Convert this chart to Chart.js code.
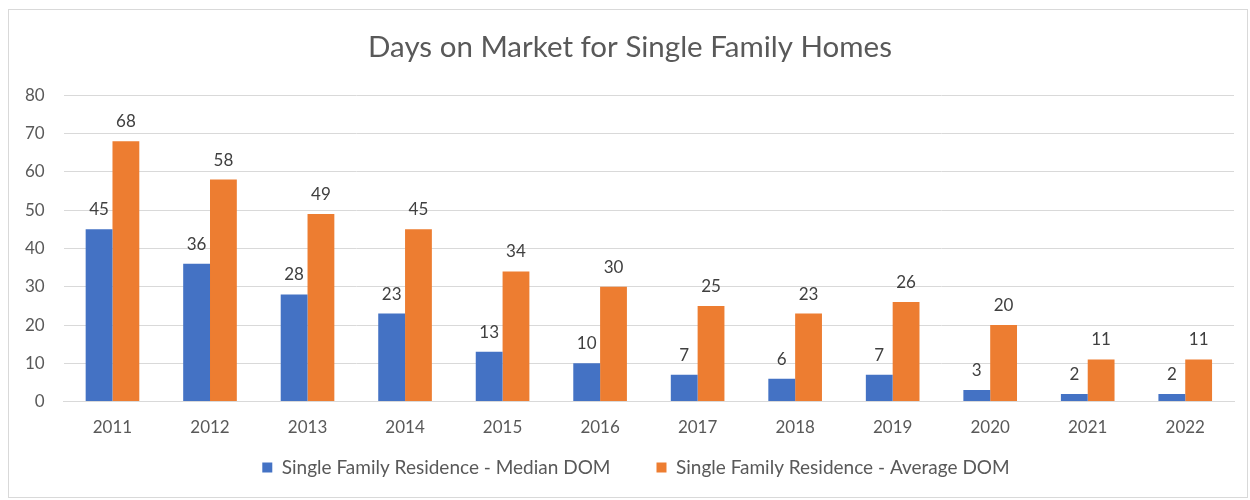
<!DOCTYPE html>
<html>
<head>
<meta charset="utf-8">
<script src="https://cdn.jsdelivr.net/npm/chart.js@4"></script>
<style>
    body { margin: 0; background: #fff; }
    #wrap {
        position: absolute; left: 8px; top: 9px;
        width: 1240px; height: 489px;
        border: 1px solid #d9d9d9; box-sizing: border-box;
    }
</style>
</head>
<body>
<div id="wrap"><canvas id="chart" width="1238" height="487"></canvas></div>
<script>
const years = ['2011', '2012', '2013', '2014', '2015', '2016', '2017', '2018', '2019', '2020', '2021', '2022'];
const medianDom = [45, 36, 28, 23, 13, 10, 7, 6, 7, 3, 2, 2];
const averageDom = [68, 58, 49, 45, 34, 30, 25, 23, 26, 20, 11, 11];
const yTicks = [0, 10, 20, 30, 40, 50, 60, 70, 80];

const FONT = 'Lato, "Liberation Sans", sans-serif';
const GREY = '#595959';
const LEGEND_LIFT = 34;

// draws the value above each bar, like excel data labels
const barLabels = {
    id: 'barLabels',
    afterDatasetsDraw(chart) {
        const ctx = chart.ctx;
        ctx.save();
        ctx.font = '17px ' + FONT;
        ctx.fillStyle = '#404040';
        ctx.textAlign = 'center';
        ctx.textBaseline = 'bottom';
        chart.data.datasets.forEach((ds, i) => {
            chart.getDatasetMeta(i).data.forEach((bar, j) => {
                ctx.fillText(ds.data[j], bar.x, bar.y - 11);
            });
        });
        ctx.restore();
    }
};

// legend keeps its wide item spacing but sits closer to the axis;
// title and legend are nudged right a little like in the original
const nudgeBoxes = {
    id: 'nudgeBoxes',
    afterLayout(chart) {
        chart.legend.top -= LEGEND_LIFT;
        chart.legend.bottom -= LEGEND_LIFT;
        chart.legend.left += 16;
        chart.legend.right += 16;
        chart.titleBlock.left += 10;
        chart.titleBlock.right += 10;
    }
};

new Chart(document.querySelector('#chart'), {
    type: 'bar',
    data: {
        labels: years,
        datasets: [
            {
                label: 'Single Family Residence - Median DOM',
                data: medianDom,
                backgroundColor: '#4472C4'
            },
            {
                label: 'Single Family Residence - Average DOM',
                data: averageDom,
                backgroundColor: '#ED7D31'
            }
        ]
    },
    options: {
        responsive: false,
        animation: false,
        datasets: {
            bar: { categoryPercentage: 0.55, barPercentage: 1 }
        },
        layout: { padding: { left: -3, right: 13, top: 0, bottom: 10 - LEGEND_LIFT } },
        plugins: {
            title: {
                display: true,
                text: 'Days on Market for Single Family Homes',
                color: GREY,
                font: { family: FONT, size: 29.5, weight: 'normal' },
                padding: { top: 20, bottom: 30 }
            },
            legend: {
                position: 'bottom',
                labels: {
                    color: GREY,
                    font: { family: FONT, size: 19 },
                    boxWidth: 10,
                    boxHeight: 10,
                    padding: 46
                }
            },
            tooltip: { enabled: false }
        },
        scales: {
            x: {
                grid: { display: false },
                border: { color: '#d9d9d9' },
                ticks: { color: GREY, font: { family: FONT, size: 17 }, padding: 8, maxRotation: 0 }
            },
            y: {
                min: 0,
                max: 80,
                afterBuildTicks: axis => { axis.ticks = yTicks.map(v => ({ value: v })); },
                grid: { color: '#d9d9d9', drawTicks: false },
                border: { display: false },
                ticks: { color: GREY, font: { family: FONT, size: 17 }, padding: 19 }
            }
        }
    },
    plugins: [barLabels, nudgeBoxes]
});
</script>
</body>
</html>
